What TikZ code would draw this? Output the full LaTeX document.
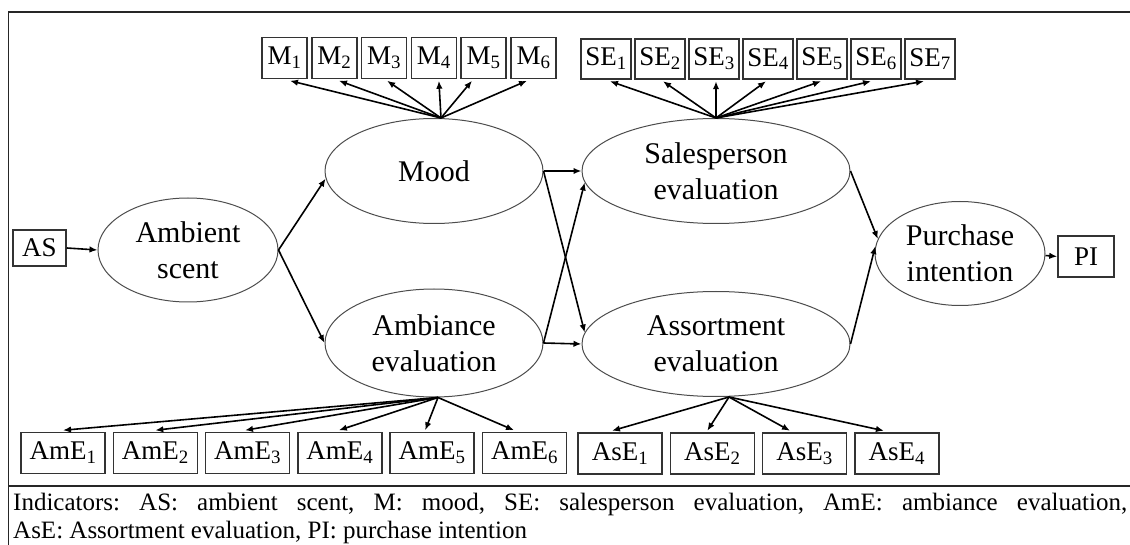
\documentclass[tikz,border=0pt]{standalone}
\usepackage{fontspec}
\setmainfont{Liberation Serif}
\usetikzlibrary{shapes.geometric,arrows.meta}
\frenchspacing
\begin{document}
\begin{tikzpicture}[x=1pt,y=-1pt,
  latent/.style={ellipse,draw=black!70,line width=1pt,inner sep=0pt,
    align=center,font=\fontsize{30}{36}\selectfont},
  ind/.style={rectangle,draw=black!80,line width=1.5pt,inner sep=0pt,
    font=\fontsize{27}{28}\selectfont},
  link/.style={line width=1.6pt,-{Latex[length=8pt,width=6.5pt]}},
  rule/.style={line width=1.8pt,draw=black!85},
  legendtext/.style={anchor=base west,inner sep=0pt,font=\fontsize{25}{28}\selectfont}]
\useasboundingbox (0,0) rectangle (1130,545);

% outer frame and the rule above the legend
\draw[rule] (1131,12) -- (8.5,12) -- (8.5,546);
\draw[rule] (8.5,486) -- (1131,486);

% latent constructs
\node[latent,minimum width=180pt,minimum height=104pt] (scent) at (188,250) {Ambient\\scent};
\node[latent,minimum width=218pt,minimum height=105pt] (mood)  at (434,171) {Mood};
\node[latent,minimum width=218pt,minimum height=108pt] (ambev) at (434,343) {Ambiance\\evaluation};
\node[latent,minimum width=268pt,minimum height=105pt] (sales) at (716,171) {Salesperson\\evaluation};
\node[latent,minimum width=268pt,minimum height=105pt] (assort) at (716,344) {Assortment\\evaluation};
\node[latent,minimum width=170pt,minimum height=104pt] (purch) at (960,253.5) {Purchase\\intention};

% single indicators
\node[ind,minimum width=53pt,minimum height=36pt] (as) at (39.5,248) {AS};
\node[ind,minimum width=56pt,minimum height=41pt] (pi) at (1086,256.5) {PI};

% mood indicators
\foreach \k/\x in {1/284.5,2/334.3,3/384.1,4/433.9,5/483.7,6/533.5}
  \node[ind,minimum width=45pt,minimum height=41pt] (m\k) at (\x,58) {M\textsubscript{\k}};
% salesperson indicators
\foreach \k/\x in {1/606,2/660,3/714,4/768,5/822,6/876,7/930}
  \node[ind,minimum width=50pt,minimum height=40pt] (se\k) at (\x,59) {SE\textsubscript{\k}};
% ambiance indicators
\foreach \k/\x in {1/63,2/155.3,3/247.6,4/339.9,5/432.2,6/524.5}
  \node[ind,minimum width=84pt,minimum height=41pt] (ame\k) at (\x,453) {AmE\textsubscript{\k}};
% assortment indicators
\foreach \k/\x in {1/620,2/712.3,3/804.6,4/896.9}
  \node[ind,minimum width=84pt,minimum height=41pt] (ase\k) at (\x,453.5) {AsE\textsubscript{\k}};

% structural paths
\draw[link] (as.east) -- (scent.west);
\draw[link] (scent.east) -- (mood.184);
\draw[link] (scent.east) -- (ambev.west);
\draw[link] (mood.east) -- (sales.west);
\draw[link] (mood.east) -- (assort.175);
\draw[link] (ambev.east) -- (sales.185);
\draw[link] (ambev.east) -- (assort.west);
\draw[link] (sales.east) -- (purch.170);
\draw[link] (assort.east) -- (purch.175);
\draw[link] ([yshift=-2pt]purch.east) -- (pi.west);

% measurement paths
\foreach \k/\s in {1/5.5,2/4.7,3/3,4/5,5/-11.7,6/-6.5}
  \draw[link] ([xshift=7pt]mood.north) -- ([xshift=\s pt,yshift=-1.5pt]m\k.south);
\foreach \k/\s in {1/4,2/3,3/2,4/-2,5/-1,6/-5,7/-6}
  \draw[link] (sales.north) -- ([xshift=\s pt,yshift=-1.5pt]se\k.south);
\foreach \k/\s in {1/0,2/0,3/-2.6,4/-1,5/-7,6/-10.5}
  \draw[link] ([xshift=4pt]ambev.south) -- ([xshift=\s pt,yshift=1.5pt]ame\k.north);
\foreach \k/\s in {1/-8,2/-5,3/-14.6,4/-13}
  \draw[link] ([xshift=13pt]assort.south) -- ([xshift=\s pt,yshift=1.5pt]ase\k.north);

% legend
\node[legendtext] (leg1) at (13,510)
  {\makebox[1114pt][s]{Indicators: AS: ambient scent, M: mood, SE: salesperson evaluation, AmE: ambiance evaluation,}};
\node[legendtext] (leg2) at (13,538)
  {AsE: Assortment evaluation, PI: purchase intention};
\end{tikzpicture}
\end{document}
